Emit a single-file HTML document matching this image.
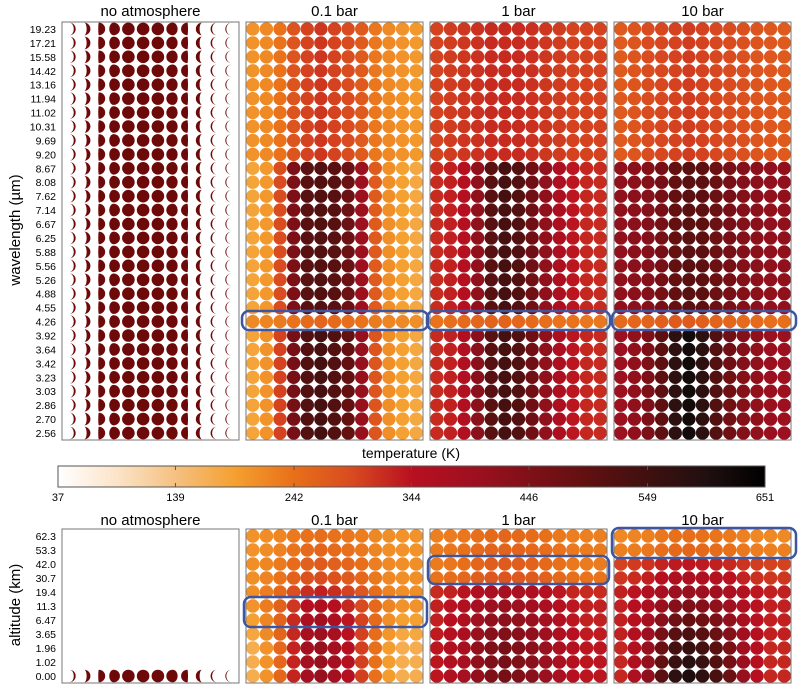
<!DOCTYPE html>
<html><head><meta charset="utf-8"><style>
body{margin:0;background:#fff;}
svg{display:block;font-family:"Liberation Sans",sans-serif;}
</style></head><body>
<svg id="fig" width="800" height="693" viewBox="0 0 800 693">
<defs>
<linearGradient id="cbar" x1="0" x2="1" y1="0" y2="0">
<stop offset="0" stop-color="#ffffff"/><stop offset="0.083" stop-color="#fbe4c8"/>
<stop offset="0.167" stop-color="#f5c080"/><stop offset="0.25" stop-color="#f5a030"/>
<stop offset="0.333" stop-color="#e8701a"/><stop offset="0.417" stop-color="#d84a20"/>
<stop offset="0.5" stop-color="#b81020"/><stop offset="0.583" stop-color="#a01020"/>
<stop offset="0.667" stop-color="#801018"/><stop offset="0.75" stop-color="#601010"/>
<stop offset="0.833" stop-color="#401010"/><stop offset="0.917" stop-color="#201010"/>
<stop offset="1" stop-color="#000000"/></linearGradient>
</defs>
<g id="top"></g><g id="bot"></g>
<text x="20" y="230" transform="rotate(-90 20 230)" text-anchor="middle" font-size="15">wavelength (µm)</text>
<text x="20" y="605" transform="rotate(-90 20 605)" text-anchor="middle" font-size="15">altitude (km)</text>
<text x="411" y="458" text-anchor="middle" font-size="14">temperature (K)</text>
<rect x="58" y="466" width="707" height="21" fill="url(#cbar)" stroke="#555" stroke-width="1"/>
<g id="cbticks"></g>
</svg>
<script>
const wavelengths=["19.23","17.21","15.58","14.42","13.16","11.94","11.02","10.31","9.69","9.20","8.67","8.08","7.62","7.14","6.67","6.25","5.88","5.56","5.26","4.88","4.55","4.26","3.92","3.64","3.42","3.23","3.03","2.86","2.70","2.56"];
const altitudes=["62.3","53.3","42.0","30.7","19.4","11.3","6.47","3.65","1.96","1.02","0.00"];
const panelTitles=["no atmosphere","0.1 bar","1 bar","10 bar"];
const cbTicks=[37,139,242,344,446,549,651];
const rowType=["A","A","A","A","A","A","A","A","A","A","B","B","B","B","B","B","B","B","B","B","B","C","D","D","D","D","D","D","D","D"];
const noAtmPhase=[0.15,0.3,0.55,0.85,1,1,1,-0.9,-0.55,-0.3,-0.12,-0.08];
const top01={A:[205,215,240,280,300,310,300,290,270,235,215,205,200],B:[185,200,290,450,510,520,510,480,400,270,210,190,180],C:[215,220,230,240,250,255,250,245,240,230,220,215,210],D:[185,205,300,460,520,540,520,490,410,280,210,190,180]};
const top1={A:[300,305,310,315,320,320,320,315,310,305,300,300,300],B:[320,330,350,420,510,540,520,470,420,370,340,325,320],C:[240,245,250,255,260,260,255,250,245,240,240,235,235],D:[320,330,360,430,510,540,520,470,420,370,340,325,320]};
const top10={A:[270,280,290,295,300,305,300,295,290,285,280,275,270],B:[420,430,440,460,490,510,500,480,460,440,430,420,420],C:[250,255,260,265,270,270,265,260,255,250,250,245,245],D:[400,420,450,500,580,620,580,520,470,440,420,405,400]};
const botShape=[-1,-0.7,-0.3,0.3,0.8,1,0.8,0.5,0.1,-0.4,-0.8,-1,-1];
const bot01Base=[225,230,240,250,270,285,290,290,290,290,290];
const bot01Amp=[20,25,30,40,60,80,100,110,120,120,120];
const bot1Base=[240,245,250,260,350,370,380,390,400,400,400];
const bot1Amp=[15,15,20,20,30,40,50,55,60,60,60];
const bot10Base=[230,240,320,340,370,390,410,430,445,455,465];
const bot10Amp=[15,15,20,30,40,60,80,100,120,130,140];

const NS="http://www.w3.org/2000/svg";
const svg=document.getElementById('fig');
function mk(t,a,p){const e=document.createElementNS(NS,t);for(const k in a)e.setAttribute(k,a[k]);(p||svg).appendChild(e);return e;}
const stops=[[37,[255,255,255]],[86,[251,228,200]],[139,[245,192,128]],[191,[245,160,48]],[242,[232,112,26]],[293,[216,74,32]],[344,[184,16,32]],[395,[160,16,32]],[446,[128,16,24]],[497,[96,16,16]],[549,[64,16,16]],[600,[32,16,16]],[651,[0,0,0]]];
function cmap(t){t=Math.max(37,Math.min(651,t));for(let i=0;i<stops.length-1;i++){const[a,ca]=stops[i],[b,cb]=stops[i+1];if(t<=b){const f=(t-a)/(b-a);return 'rgb('+ca.map((v,j)=>Math.round(v+(cb[j]-v)*f)).join(',')+')';}}return '#000';}
const cbX=v=>58+(v-37)/(651-37)*707;
const panelX=[62,246,430,614],PW=177;
const topY0=22,topH=418,botY0=529,botH=154;
const topRowY=r=>topY0+(r+0.5)*topH/wavelengths.length;
const botRowY=r=>botY0+(r+0.5)*botH/altitudes.length;
const colX=(p,c,n)=>panelX[p]+(c+0.5)*PW/n;
const gT=document.getElementById('top'),gB=document.getElementById('bot');

function phase(g,cx,cy,r,f){
  const lit=Math.abs(f),right=f>0;
  if(lit>=0.999){const c=mk('circle',{cx,cy,r,fill:'#6e0909'},g);return;}
  const rx=Math.abs(1-2*lit)*r;const s1=right?1:0;const s2=(lit<0.5)?(right?0:1):(right?1:0);
  const d=`M${cx},${cy-r} A${r},${r} 0 0 ${s1} ${cx},${cy+r} A${rx},${r} 0 0 ${s2} ${cx},${cy-r}Z`;
  const p=mk('path',{d,fill:'#6e0909'},g);
  
  
}
function title(x,y,t){const e=mk('text',{x,y,'text-anchor':'middle','font-size':15});e.textContent=t;
  
  }
function frame(p,y0,h){const e=mk('rect',{x:panelX[p],y:y0,width:PW,height:h,fill:'none',stroke:'#777','stroke-width':1});
  
  }

const topData=[null,top01,top1,top10];
wavelengths.forEach((w,r)=>{
  const t=mk('text',{x:56,y:topRowY(r)+4,'text-anchor':'end','font-size':10.5});t.textContent=w;
  
  
  noAtmPhase.forEach((f,c)=>phase(gT,colX(0,c,noAtmPhase.length),topRowY(r),6.3,f));
  for(let p=1;p<4;p++){topData[p][rowType[r]].forEach((v,c)=>{
    const e=mk('circle',{cx:colX(p,c,13),cy:topRowY(r),r:6.7,fill:cmap(v)},gT);
    
    });}
});
const botBase=[null,bot01Base,bot1Base,bot10Base],botAmp=[null,bot01Amp,bot1Amp,bot10Amp];
altitudes.forEach((a,r)=>{
  const t=mk('text',{x:56,y:botRowY(r)+4,'text-anchor':'end','font-size':10.5});t.textContent=a;
  
  
  if(r===altitudes.length-1)noAtmPhase.forEach((f,c)=>phase(gB,colX(0,c,noAtmPhase.length),botRowY(r),6.3,f));
  for(let p=1;p<4;p++){botShape.forEach((s,c)=>{
    const e=mk('circle',{cx:colX(p,c,13),cy:botRowY(r),r:6.8,fill:cmap(botBase[p][r]+botAmp[p][r]*s)},gB);
    
    });}
});
for(let p=0;p<4;p++){frame(p,topY0,topH);frame(p,botY0,botH);
  title(panelX[p]+PW/2,16,panelTitles[p]);title(panelX[p]+PW/2,525,panelTitles[p]);}
const hl=[[242,311,186,19],[427,311,183,19],[612,311,184,19],[244,597,183,30],[428,556,181,28],[612,528,184,30]];
hl.forEach(h=>{const e=mk('rect',{x:h[0],y:h[1],width:h[2],height:h[3],rx:7,fill:'none',stroke:'#3e56a0','stroke-width':2.5});
  
  });
const gc=document.getElementById('cbticks');
cbTicks.forEach(v=>{const x=cbX(v);
  mk('line',{x1:x,x2:x,y1:466,y2:470,stroke:'#555'},gc);mk('line',{x1:x,x2:x,y1:483,y2:487,stroke:'#555'},gc);
  const t=mk('text',{x,y:501,'text-anchor':'middle','font-size':11},gc);t.textContent=v;
  
  });
</script>
</body></html>
